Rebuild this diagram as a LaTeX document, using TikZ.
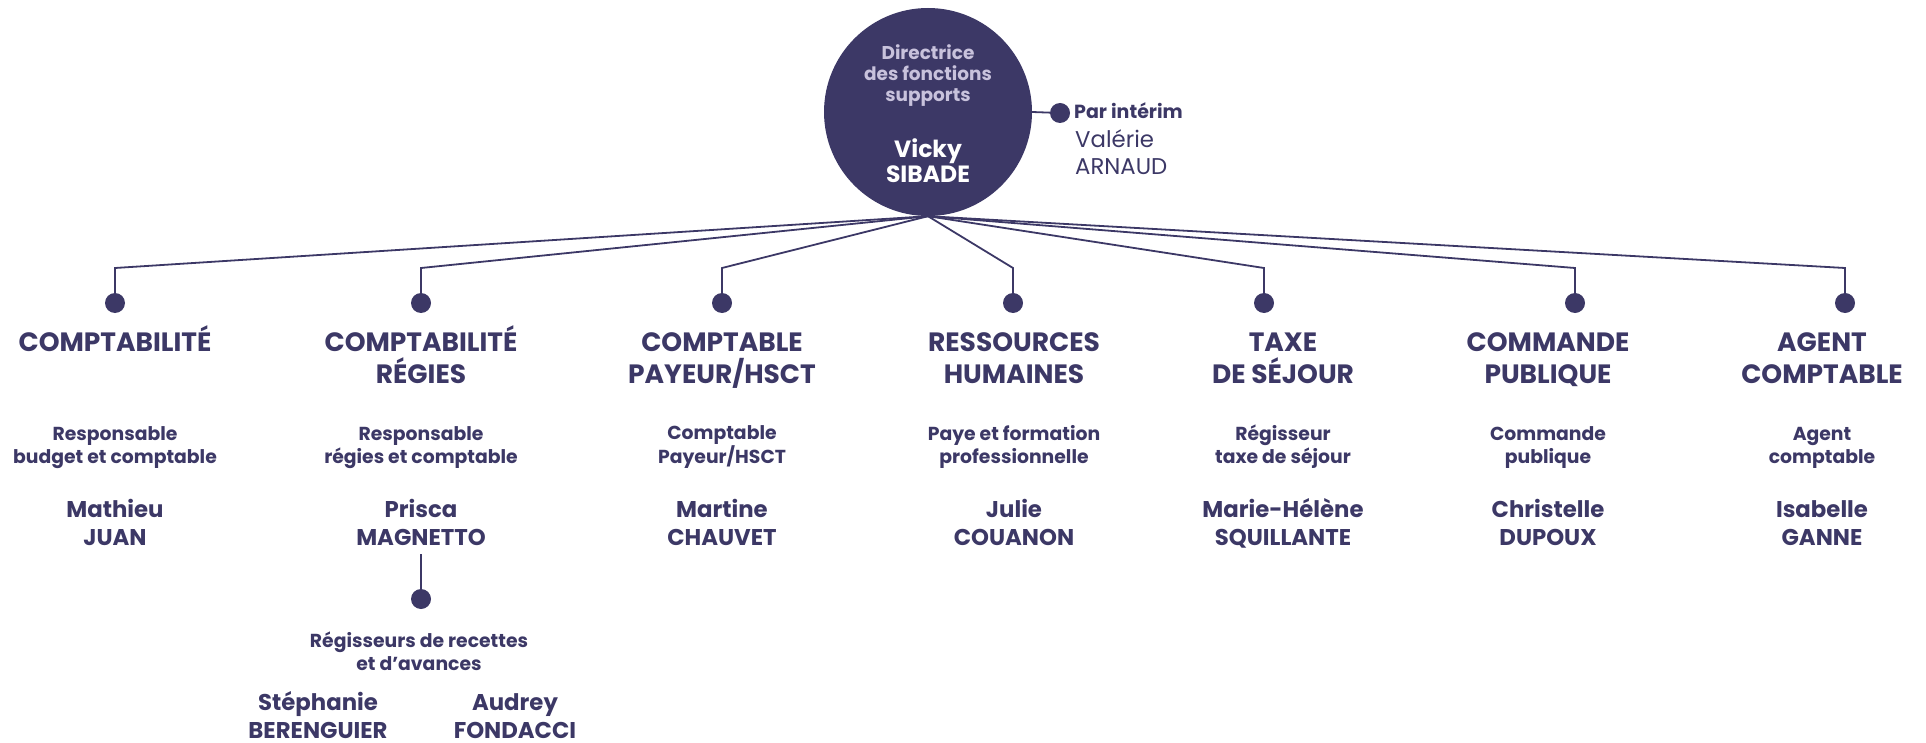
\documentclass[tikz,border=0pt]{standalone}
\usepackage{fontspec}
\setmainfont{Poppins}
\definecolor{navy}{RGB}{60,56,102}
\definecolor{lav}{RGB}{200,194,220}
\begin{document}
\begin{tikzpicture}[x=1pt,y=-1pt,
  pdot/.style={circle,fill=navy,minimum size=20pt,inner sep=0pt},
  link/.style={draw=navy,line width=1.8pt},
  ttl/.style={font=\bfseries\fontsize{26.5}{32}\selectfont,text=navy,align=center,anchor=base,inner sep=0pt},
  subt/.style={font=\bfseries\fontsize{18.8}{22.5}\selectfont,text=navy,align=center,anchor=base,inner sep=0pt},
  nm/.style={font=\bfseries\fontsize{22.8}{28}\selectfont,text=navy,align=center,anchor=base,inner sep=0pt}]
\useasboundingbox (0,0) rectangle (1926,743);
% boss
\node[circle,fill=navy,minimum size=208pt,inner sep=0pt] (boss) at (928,112) {};
\node[font=\bfseries\fontsize{18.5}{21}\selectfont,text=lav,align=center,anchor=base,inner sep=0pt] (bosst) at (928,102) {Directrice\\des fonctions\\supports};
\node[font=\bfseries\fontsize{23.5}{25}\selectfont,text=white,align=center,anchor=base,inner sep=0pt] (bossn) at (928,183) {Vicky\\SIBADE};
% interim
\node[pdot] (idot) at (1060,113) {};
\draw[link] (boss.east) -- (idot);
\node[font=\bfseries\fontsize{19}{21}\selectfont,text=navy,anchor=base west,inner sep=0pt] (it) at (1074,119) {Par intérim};
\node[font=\fontsize{22.8}{27}\selectfont,text=navy,align=left,anchor=base west,inner sep=0pt] (in) at (1075,175) {Valérie\\ARNAUD};
% columns
\foreach \i/\x/\tx/\ty/\t/\s/\n in {
  1/115/115/351/{COMPTABILITÉ}/{Responsable\\budget et comptable}/{Mathieu\\JUAN},
  2/421/421/383/{COMPTABILITÉ\\RÉGIES}/{Responsable\\régies et comptable}/{Prisca\\MAGNETTO},
  3/722/722/383/{COMPTABLE\\PAYEUR/HSCT}/{Comptable\\Payeur/HSCT}/{Martine\\CHAUVET},
  4/1013/1014/383/{RESSOURCES\\HUMAINES}/{Paye et formation\\professionnelle}/{Julie\\COUANON},
  5/1264/1283/383/{TAXE\\DE SÉJOUR}/{Régisseur\\taxe de séjour}/{Marie-Hélène\\SQUILLANTE},
  6/1575/1548/383/{COMMANDE\\PUBLIQUE}/{Commande\\publique}/{Christelle\\DUPOUX},
  7/1845/1822/383/{AGENT\\COMPTABLE}/{Agent\\comptable}/{Isabelle\\GANNE}}{
  \coordinate (b\i) at (\x,268);
  \node[pdot] (d\i) at (\x,303) {};
  \draw[link] (boss.south) -- (b\i) -- (d\i.center);
  \node[ttl] (t\i) at (\tx,\ty) {\t};
  \node[subt] (s\i) at (\tx,463) {\s};
  \node[nm] (n\i) at (\tx,545) {\n};
}
% sub-tree
\coordinate (r0) at (421,554);
\node[pdot] (rdot) at (421,599) {};
\draw[link] (r0) -- (rdot.center);
\node[subt] (rs) at (419,670) {Régisseurs de recettes\\et d’avances};
\node[nm,text depth=0pt] (ra) at (318,738) {Stéphanie\\BERENGUIER};
\node[nm,text depth=0pt] (rb) at (515,738) {Audrey\\FONDACCI};
\end{tikzpicture}
\end{document}
